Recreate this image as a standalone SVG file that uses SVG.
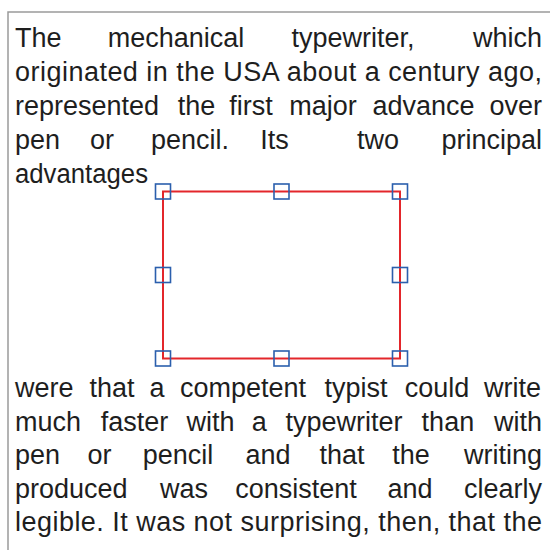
<svg xmlns="http://www.w3.org/2000/svg" width="550" height="550" viewBox="0 0 550 550">
  <style>
    .t { font-family: "Liberation Sans", Arial, sans-serif; font-size: 27px; fill: #1e1e1e; }
    .m { text-anchor: middle; }
    .e { text-anchor: end; }
    .frame { fill: none; stroke: #9a9a9a; stroke-width: 1.5; }
    .sel { fill: none; stroke: #e3262b; stroke-width: 2; }
    .h { fill: none; stroke: #2b5fad; stroke-width: 1.6; }
  </style>
  <rect width="550" height="550" fill="#ffffff"/>
  <path class="frame" d="M8,560 L8,12 L560,12"/>

  <g id="paragraph-top">
    <text class="t" y="47"><tspan x="15">The</tspan><tspan class="m" x="176">mechanical</tspan><tspan class="m" x="353">typewriter,</tspan><tspan class="e" x="542">which</tspan></text>
    <text class="t" x="15" y="81" textLength="527" lengthAdjust="spacing">originated in the USA about a century ago,</text>
    <text class="t" y="115"><tspan x="15">represented</tspan><tspan class="m" x="196.5">the</tspan><tspan class="m" x="251">first</tspan><tspan class="m" x="323">major</tspan><tspan class="m" x="423.5">advance</tspan><tspan class="e" x="542">over</tspan></text>
    <text class="t" y="149"><tspan x="15">pen</tspan><tspan class="m" x="102">or</tspan><tspan class="m" x="190">pencil.</tspan><tspan class="m" x="274.5">Its</tspan><tspan class="m" x="378">two</tspan><tspan class="e" x="542">principal</tspan></text>
    <text class="t" x="15" y="183" textLength="133" lengthAdjust="spacingAndGlyphs">advantages</text>
  </g>

  <g id="selection-box">
    <rect class="sel" x="163" y="191.5" width="237" height="167"/>
    <rect class="h" x="155.5" y="184" width="15" height="15"/>
    <rect class="h" x="274" y="184" width="15" height="15"/>
    <rect class="h" x="392.5" y="184" width="15" height="15"/>
    <rect class="h" x="155.5" y="267.5" width="15" height="15"/>
    <rect class="h" x="392.5" y="267.5" width="15" height="15"/>
    <rect class="h" x="155.5" y="351" width="15" height="15"/>
    <rect class="h" x="274" y="351" width="15" height="15"/>
    <rect class="h" x="392.5" y="351" width="15" height="15"/>
  </g>

  <g id="paragraph-bottom">
    <text class="t" y="397"><tspan x="15">were</tspan><tspan class="m" x="112">that</tspan><tspan class="m" x="157">a</tspan><tspan class="m" x="243">competent</tspan><tspan class="m" x="356">typist</tspan><tspan class="m" x="437">could</tspan><tspan class="e" x="541">write</tspan></text>
    <text class="t" y="430.5"><tspan x="15">much</tspan><tspan class="m" x="134.6">faster</tspan><tspan class="m" x="210.5">with</tspan><tspan class="m" x="259.3">a</tspan><tspan class="m" x="343.9">typewriter</tspan><tspan class="m" x="447.9">than</tspan><tspan class="e" x="542">with</tspan></text>
    <text class="t" y="464"><tspan x="15">pen</tspan><tspan class="m" x="99.5">or</tspan><tspan class="m" x="178">pencil</tspan><tspan class="m" x="268">and</tspan><tspan class="m" x="342">that</tspan><tspan class="m" x="411">the</tspan><tspan class="e" x="542">writing</tspan></text>
    <text class="t" y="497.5"><tspan x="15">produced</tspan><tspan class="m" x="184">was</tspan><tspan class="m" x="296">consistent</tspan><tspan class="m" x="410">and</tspan><tspan class="e" x="542">clearly</tspan></text>
    <text class="t" x="15" y="531" textLength="527" lengthAdjust="spacing">legible. It was not surprising, then, that the</text>
  </g>
</svg>
